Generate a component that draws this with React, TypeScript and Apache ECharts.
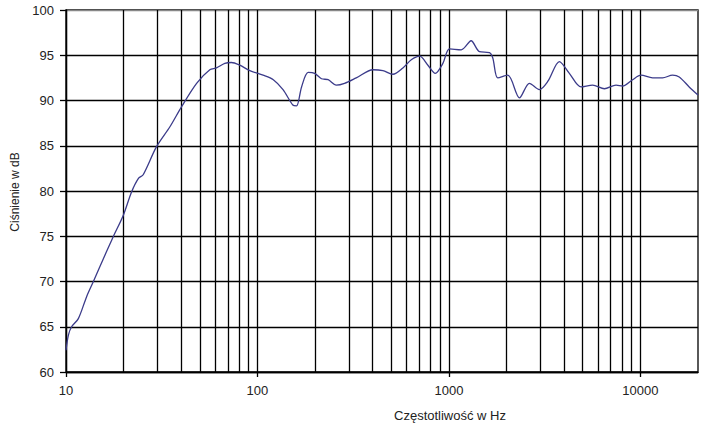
import React, { useEffect, useRef } from "react";
import * as echarts from "echarts";

const frequencies = [
  10, 10.3, 10.7, 11.6, 12.8, 13.9, 15.0, 17.6, 19.9, 22.0, 23.9, 25.3, 29.7,
  34.9, 40.1, 48.1, 56.4, 61.1, 67.5, 73.1, 80.9, 91.2, 107, 121, 136, 153,
  160, 170, 184, 199, 216, 234, 258, 285, 328, 401, 452, 510, 575, 636, 703,
  777, 849, 930, 1007, 1159, 1281, 1306, 1444, 1629, 1695, 1800, 2030, 2336,
  2633, 2969, 3282, 3777, 4257, 4900, 5634, 6486, 7460, 8078, 9107, 10070,
  11580, 13060, 14730, 15960, 17990, 20000,
];
const pressureDb = [
  62.4, 64.1, 65.0, 65.9, 68.3, 70.0, 71.6, 74.9, 77.3, 79.9, 81.4, 81.8, 84.9,
  87.1, 89.3, 91.9, 93.4, 93.6, 94.1, 94.2, 93.9, 93.3, 92.8, 92.3, 91.2, 89.5,
  89.4, 91.5, 93.1, 93.0, 92.4, 92.3, 91.7, 91.9, 92.5, 93.4, 93.3, 92.9, 93.6,
  94.5, 94.9, 93.9, 93.0, 94.1, 95.7, 95.6, 96.5, 96.6, 95.4, 95.3, 94.7, 92.5,
  92.8, 90.3, 91.9, 91.2, 92.1, 94.3, 93.0, 91.5, 91.7, 91.3, 91.7, 91.6, 92.3,
  92.8, 92.5, 92.5, 92.8, 92.6, 91.5, 90.6,
];
const minorGridFreqs = [
  20, 30, 40, 50, 60, 70, 80, 90, 200, 300, 400, 500, 600, 700, 800, 900, 2000,
  3000, 4000, 5000, 6000, 7000, 8000, 9000,
];
const xMaxFreq = 20000;
const decadeLabels = [10, 100, 1000, 10000];
const yTitle = "Ciśnienie w dB";
const xTitle = "Częstotliwość w Hz";

export default function App() {
  const ref = useRef<HTMLDivElement>(null);
  useEffect(() => {
    if (!ref.current) return;
    const chart = echarts.init(ref.current, null, { renderer: "svg" });
    const font = "Liberation Sans, Arial, sans-serif";
    chart.setOption({
      animation: false,
      backgroundColor: "#ffffff",
      grid: {
        left: 66,
        right: 7,
        top: 10,
        bottom: 53,
        containLabel: false,
        show: true,
        borderColor: "#000",
        borderWidth: 1.3,
        backgroundColor: "transparent",
      },
      xAxis: {
        type: "log",
        logBase: 10,
        min: 10,
        max: xMaxFreq,
        axisLine: { show: true, lineStyle: { color: "#000", width: 1.3 } },
        axisTick: {
          show: true,
          customValues: decadeLabels,
          length: 5,
          lineStyle: { color: "#000", width: 1.3 },
        },
        axisLabel: {
          customValues: decadeLabels,
          formatter: (v: number) => String(Math.round(v)),
          color: "#222",
          fontSize: 13,
          fontFamily: font,
          margin: 12,
        },
        splitLine: { show: true, lineStyle: { color: "#000", width: 1.3 } },
      },
      yAxis: {
        type: "value",
        min: 60,
        max: 100,
        interval: 5,
        axisLine: { show: true, lineStyle: { color: "#000", width: 1.3 } },
        axisTick: { show: true, length: 6, lineStyle: { color: "#000", width: 1.3 } },
        axisLabel: { color: "#222", fontSize: 13, fontFamily: font, margin: 12 },
        splitLine: {
          show: true,
          lineStyle: {
            color: ["#000", "#000", "#000", "#000", "#000", "#000", "#000", "#000", "#888"],
            width: 1.3,
          },
        },
      },
      graphic: [
        {
          type: "text",
          x: 15,
          y: 192,
          rotation: Math.PI / 2,
          style: {
            text: yTitle,
            fontSize: 12,
            fontFamily: font,
            fill: "#222",
            textAlign: "center",
            textVerticalAlign: "middle",
          },
        },
        {
          type: "text",
          x: 450,
          y: 415,
          style: {
            text: xTitle,
            fontSize: 13,
            fontFamily: font,
            fill: "#222",
            textAlign: "center",
            textVerticalAlign: "middle",
          },
        },
      ],
      series: [
        {
          type: "line",
          data: frequencies.map((f, i) => [f, pressureDb[i]]),
          showSymbol: false,
          smooth: 0.3,
          clip: false,
          lineStyle: { color: "#3b3b8a", width: 1.3 },
          z: 5,
          markLine: {
            silent: true,
            symbol: "none",
            label: { show: false },
            lineStyle: { color: "#000", width: 1.3, type: "solid" },
            data: minorGridFreqs.map((f) => ({ xAxis: f })),
            z: 1,
          },
        },
      ],
    });
    return () => chart.dispose();
  }, []);
  return (
    <div
      ref={ref}
      style={{ position: "fixed", left: 0, top: 0, width: 705, height: 425 }}
    />
  );
}
